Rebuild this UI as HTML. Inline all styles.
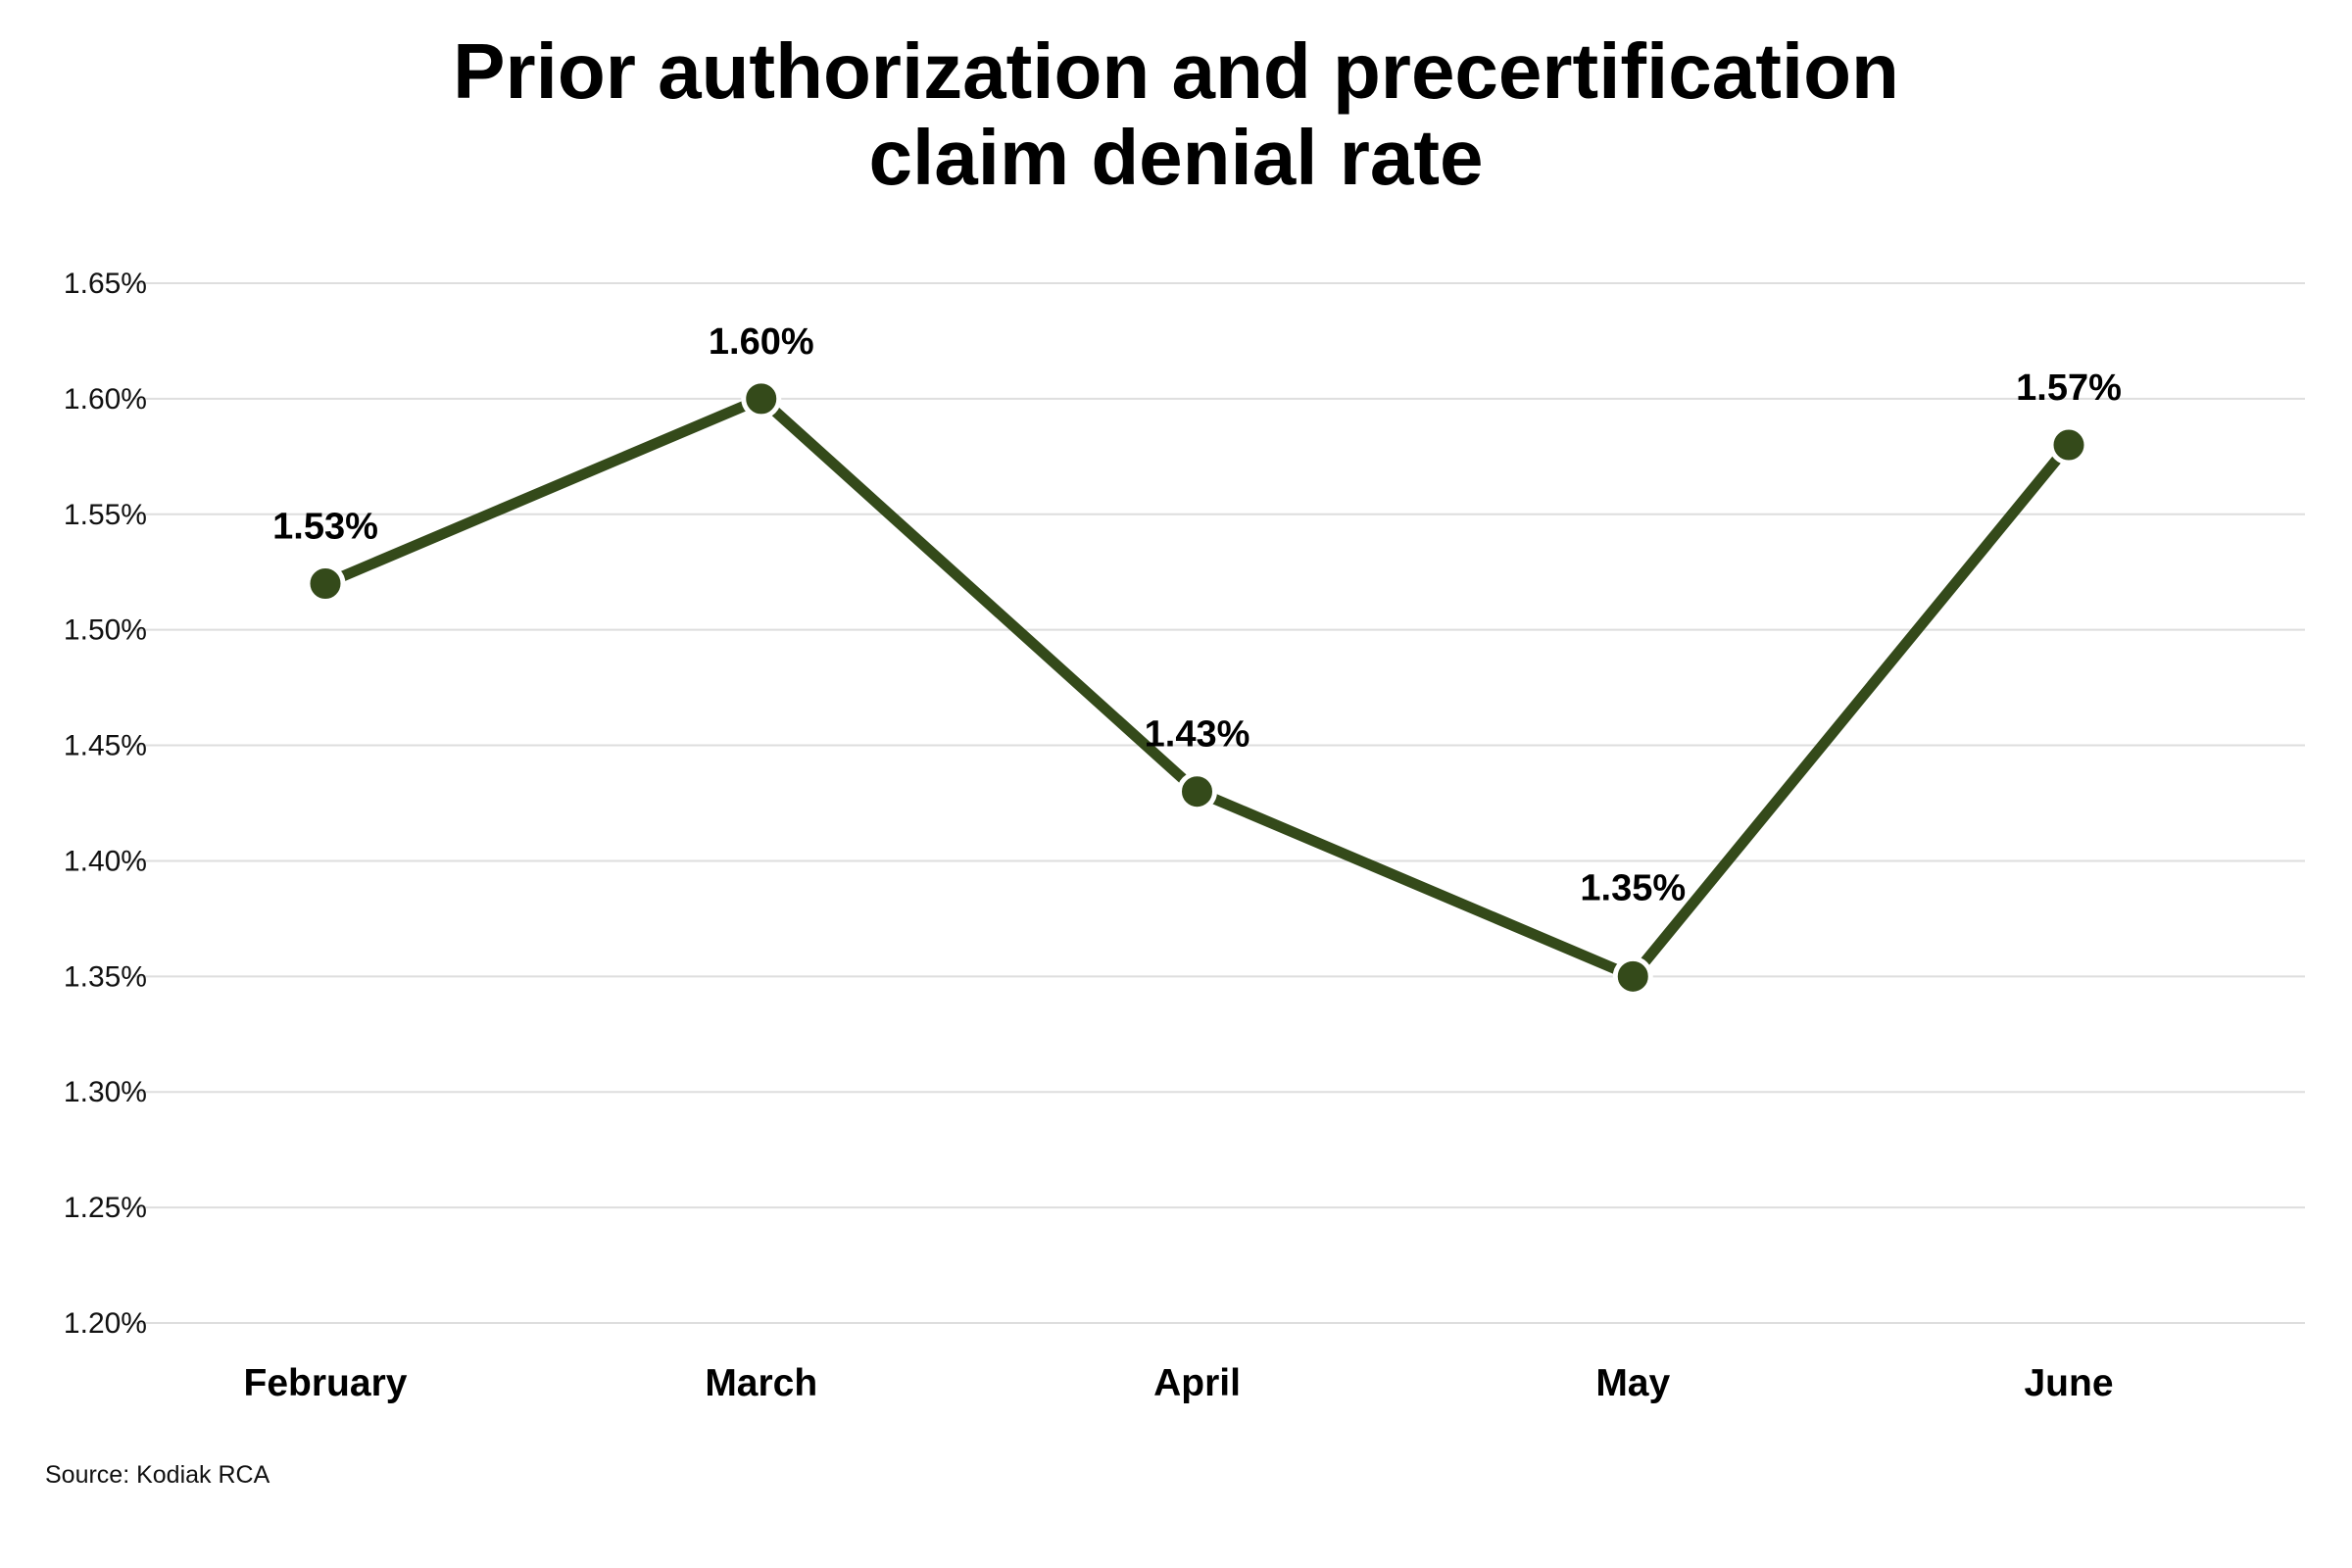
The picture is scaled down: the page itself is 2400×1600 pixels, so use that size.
<!DOCTYPE html>
<html><head><meta charset="utf-8"><style>
html,body{margin:0;padding:0;background:#fff;}
svg{display:block;font-family:"Liberation Sans",sans-serif;}
</style></head><body>
<svg id="chart" width="2400" height="1600" viewBox="0 0 2400 1600">
<text x="1200" y="100" text-anchor="middle" font-size="80" font-weight="bold" fill="#000">Prior authorization and precertification</text>
<text x="1200" y="188" text-anchor="middle" font-size="80" font-weight="bold" fill="#000">claim denial rate</text>
<g id="grid"></g><g id="ylabels"></g><g id="xlabels"></g><g id="series"></g>
<text x="46" y="1513" font-size="25" fill="#111">Source: Kodiak RCA</text>
</svg>
<script>
const categories = ["February","March","April","May","June"];
const values = [1.52,1.60,1.43,1.35,1.58];
const valueLabels = ["1.53%","1.60%","1.43%","1.35%","1.57%"];
const yTicks = [1.20,1.25,1.30,1.35,1.40,1.45,1.50,1.55,1.60,1.65];
const yTickLabels = ["1.20%","1.25%","1.30%","1.35%","1.40%","1.45%","1.50%","1.55%","1.60%","1.65%"];

const NS="http://www.w3.org/2000/svg";
const yMin=1.20,yMax=1.65,plotTop=289,plotBottom=1350;
const yScale=v=>plotBottom-(v-yMin)/(yMax-yMin)*(plotBottom-plotTop);
const xStart=332,xEnd=2111;
const xScale=i=>xStart+i*(xEnd-xStart)/(categories.length-1);
function mk(tag,attrs,parent){const e=document.createElementNS(NS,tag);for(const k in attrs)e.setAttribute(k,attrs[k]);parent.appendChild(e);return e;}
const grid=document.getElementById('grid'),yl=document.getElementById('ylabels'),xl=document.getElementById('xlabels'),ser=document.getElementById('series');
yTicks.forEach((t,i)=>{
  const l=mk('line',{x1:135,x2:2352,y1:yScale(t),y2:yScale(t),stroke:'#dedede','stroke-width':2},grid);
  
  
  const tx=mk('text',{x:150,y:yScale(t)+10,'text-anchor':'end','font-size':30,fill:'#111'},yl);
  tx.textContent=yTickLabels[i];
  
  
});
categories.forEach((c,i)=>{
  const tx=mk('text',{x:xScale(i),y:1424,'text-anchor':'middle','font-size':39,'font-weight':'bold',fill:'#000'},xl);
  tx.textContent=c;
  
  
});
const pl=mk('polyline',{points:values.map((v,i)=>xScale(i)+','+yScale(v)).join(' '),fill:'none',stroke:'#344a1a','stroke-width':11,'stroke-linejoin':'round'},ser);


values.forEach((v,i)=>{
  const c=mk('circle',{cx:xScale(i),cy:yScale(v),r:18,fill:'#344a1a',stroke:'#fff','stroke-width':5},ser);
  
  
  const off=(i===3)?78:46;
  const t=mk('text',{x:xScale(i),y:yScale(v)-off,'text-anchor':'middle','font-size':38,'font-weight':'bold',fill:'#000'},ser);
  t.textContent=valueLabels[i];
  
  
});
</script>
</body></html>
